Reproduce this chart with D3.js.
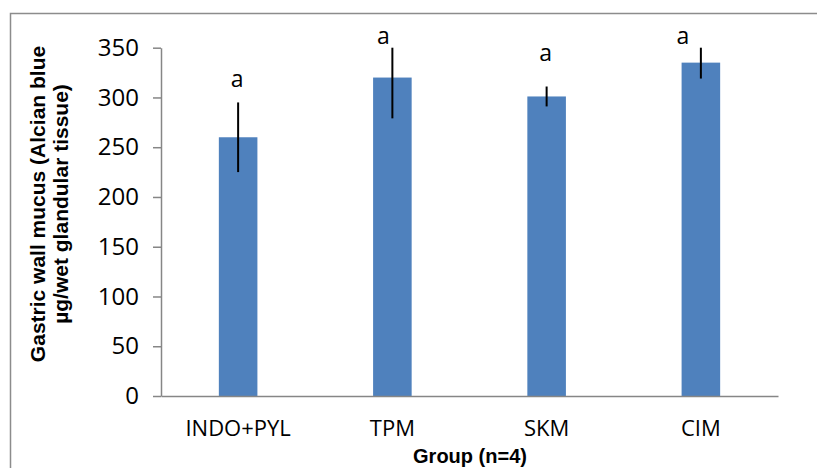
<!DOCTYPE html>
<html>
<head>
<meta charset="utf-8">
<script src="https://cdn.jsdelivr.net/npm/d3@7/dist/d3.min.js"></script>
<style>
  html, body { margin: 0; padding: 0; background: #fff; }
  svg { display: block; }
</style>
</head>
<body>
<svg id="chart" width="817" height="468"></svg>
<script>
// Groups on the x axis
var groups = ['INDO+PYL', 'TPM', 'SKM', 'CIM'];
// Mean gastric wall mucus per group
var means = [260, 320, 301, 335];
// Error (+/-) per group
var errors = [35, 41, 10, 16];
// Significance letters and the value level where each sits
var sigLetters = ['a', 'a', 'a', 'a'];
var sigLevels = [311, 354, 337, 354];
// Y axis ticks
var yTicks = [0, 50, 100, 150, 200, 250, 300, 350];

// Layout
var PLOT = { left: 161, right: 778, top: 47.7, bottom: 396 };
// Hand-placed letters sit a little off the bar centre
var LETTER_NUDGE = [-1, -9, -1, -18];
var TICK_FONT = '"Open Sans", "DejaVu Sans", sans-serif';
var TITLE_FONT = '"Liberation Sans", Arial, sans-serif';

var svg = d3.select('#chart');

// Outer chart frame (only left and top edges are visible in the picture)
svg.append('rect')
	.attr('x', 10.5).attr('y', 13.5)
	.attr('width', 900).attr('height', 600)
	.attr('fill', 'none')
	.attr('stroke', '#8c8c8c')
	.attr('stroke-width', 1.5);

var x = d3.scaleBand()
	.domain(groups)
	.range([PLOT.left, PLOT.right])
	.paddingInner(0.75)
	.paddingOuter(0.375);

// Clamp so error bars are cut at the top of the plot area, as in Excel
var y = d3.scaleLinear()
	.domain([0, 350])
	.range([PLOT.bottom, PLOT.top])
	.clamp(true);

// Bars
svg.append('g').selectAll('rect')
	.data(groups)
	.enter().append('rect')
	.attr('x', function (d) { return x(d); })
	.attr('width', x.bandwidth())
	.attr('y', function (d, i) { return y(means[i]); })
	.attr('height', function (d, i) { return y(0) - y(means[i]); })
	.attr('fill', '#4f81bd');

// Error bars, no caps
svg.append('g').selectAll('line')
	.data(groups)
	.enter().append('line')
	.attr('x1', function (d) { return x(d) + x.bandwidth() / 2; })
	.attr('x2', function (d) { return x(d) + x.bandwidth() / 2; })
	.attr('y1', function (d, i) { return y(means[i] + errors[i]); })
	.attr('y2', function (d, i) { return y(means[i] - errors[i]); })
	.attr('stroke', '#000')
	.attr('stroke-width', 2);

// Significance letters (unclamped so they can sit above the axis top)
var yFree = y.copy().clamp(false);
svg.append('g').selectAll('text')
	.data(groups)
	.enter().append('text')
	.attr('x', function (d, i) { return x(d) + x.bandwidth() / 2 + LETTER_NUDGE[i]; })
	.attr('y', function (d, i) { return yFree(sigLevels[i]); })
	.attr('text-anchor', 'middle')
	.style('font-family', TICK_FONT)
	.style('font-size', '23px')
	.attr('fill', '#000')
	.text(function (d, i) { return sigLetters[i]; });

// Y axis
var yAxis = svg.append('g')
	.attr('transform', 'translate(' + PLOT.left + ',0)')
	.call(d3.axisLeft(y).tickValues(yTicks).tickSize(8).tickSizeOuter(0).tickPadding(14));
yAxis.select('.domain').attr('stroke', '#868686').attr('stroke-width', 1.5);
yAxis.selectAll('.tick line').attr('stroke', '#868686').attr('stroke-width', 1.5);
yAxis.selectAll('.tick text')
	.style('font-family', TICK_FONT)
	.style('font-size', '24px')
	.attr('fill', '#000');

// X axis
var xAxis = svg.append('g')
	.attr('transform', 'translate(0,' + PLOT.bottom + ')')
	.call(d3.axisBottom(x).tickSize(0).tickPadding(24));
xAxis.select('.domain').attr('stroke', '#868686').attr('stroke-width', 1.5);
xAxis.selectAll('.tick text')
	.style('font-family', TICK_FONT)
	.style('font-size', '22px')
	.attr('fill', '#000');

// Axis titles
var yTitle = svg.append('text')
	.attr('transform', 'translate(0,204) rotate(-90)')
	.attr('text-anchor', 'middle')
	.style('font-family', TITLE_FONT)
	.style('font-size', '21px')
	.style('font-weight', 'bold')
	.attr('fill', '#000');
yTitle.append('tspan').attr('x', 0).attr('y', 45).text('Gastric wall mucus (Alcian blue');
yTitle.append('tspan').attr('x', 0).attr('y', 68).text('\u00b5g/wet glandular tissue)');

svg.append('text')
	.attr('x', 470)
	.attr('y', 463)
	.attr('text-anchor', 'middle')
	.style('font-family', TITLE_FONT)
	.style('font-size', '20px')
	.style('font-weight', 'bold')
	.attr('fill', '#000')
	.text('Group (n=4)');
</script>
</body>
</html>
